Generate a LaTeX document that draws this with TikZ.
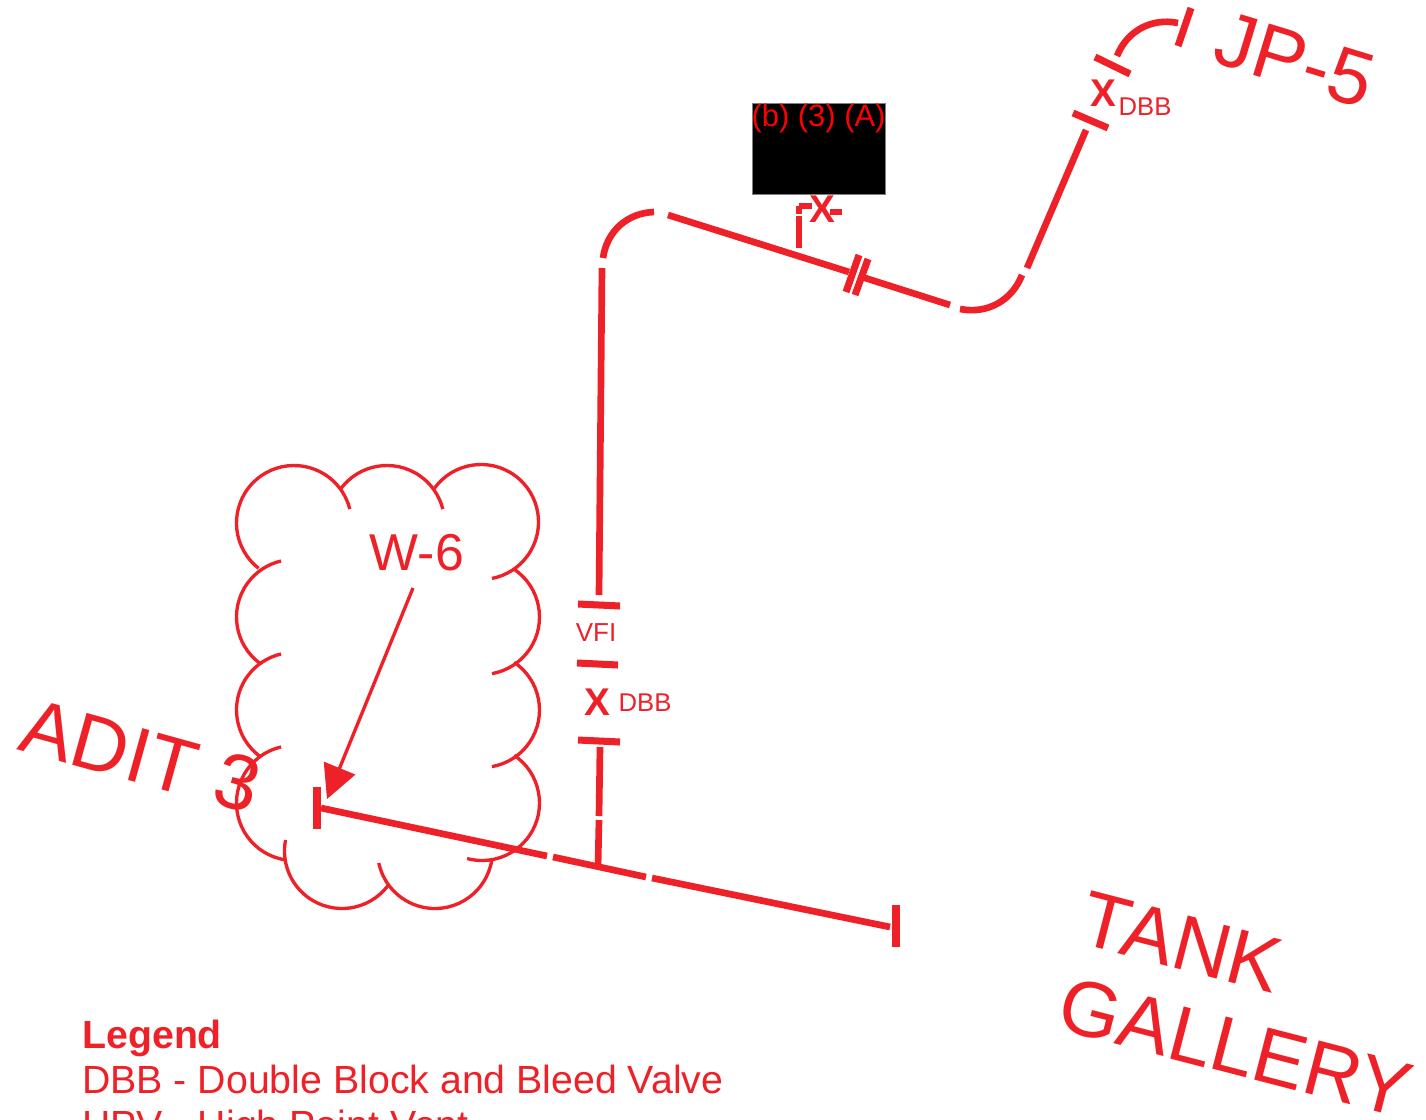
\documentclass[tikz,border=0pt]{standalone}
\usepackage{fontspec}
\setmainfont{Liberation Sans}
\usepackage{tikz}
\usetikzlibrary{arrows.meta}
\definecolor{pipered}{RGB}{238,32,40}
\newcommand{\bump}[4]{\draw[cloudline] (#1,#2) ++(#3:57.5) arc (#3:#4:57.5);}
\newcommand{\pxfont}[1]{\fontsize{#1}{#1}\selectfont}

\begin{document}
\begin{tikzpicture}[x=0.02cm,y=-0.02cm,
         line cap=butt, auto=false]
  \tikzstyle{pipe}=[color=pipered, line width=3.8pt]
  \tikzstyle{capline}=[color=pipered, line width=4pt]
  \tikzstyle{cloudline}=[color=pipered, line width=1.9pt]
  \tikzstyle{lbl}=[text=pipered, inner sep=0pt]
  \tikzstyle{redact}=[draw=gray, fill=black, line width=0.5pt, minimum width=2.66cm, minimum height=1.82cm, inner sep=0pt]
\useasboundingbox (0,0) rectangle (1426,1119);
\clip (0,0) rectangle (1426,1119);

% cloud
\bump{294}{523}{128}{346}
\bump{387}{523}{215}{346}
\bump{481}{522}{216}{439}
\bump{482}{617}{-56}{80}
\bump{482}{710}{-56}{80}
\bump{482}{803}{-56}{105}
\bump{435}{851}{9}{168}
\bump{342}{851}{37}{191}
\bump{294}{803}{99}{257}
\bump{294}{710}{126}{257}
\bump{294}{617}{126}{257}

% main line
\coordinate (endAa) at (317,787);
\coordinate (endAb) at (317,829);
\coordinate (mainA) at (321,808);
\coordinate (mainB) at (547,856);
\coordinate (mainC) at (553,857);
\coordinate (mainD) at (646,877);
\coordinate (mainE) at (652,878);
\coordinate (mainF) at (890,927);
\coordinate (endBa) at (896,905);
\coordinate (endBb) at (896,947);

% riser
\coordinate (tee) at (598,867);
\coordinate (riserA) at (599,820);
\coordinate (riserB) at (599,816);
\coordinate (riserC) at (600,747);
\coordinate (dbbAa) at (578,740);
\coordinate (dbbAb) at (620,742);
\coordinate (vfiAa) at (577,663);
\coordinate (vfiAb) at (618,665);
\coordinate (vfiBa) at (578,604);
\coordinate (vfiBb) at (620,606);
\coordinate (riserD) at (599,595);
\coordinate (riserE) at (602,268);

% top run
\coordinate (elbAa) at (603,258);
\coordinate (elbAb) at (654,212);
\coordinate (runA) at (668,215);
\coordinate (runB) at (849,272);
\coordinate (flgAa) at (859,255);
\coordinate (flgAb) at (846,292);
\coordinate (flgBa) at (868,259);
\coordinate (flgBb) at (855,295);
\coordinate (runC) at (862,277);
\coordinate (runD) at (950,305);
\coordinate (elbBa) at (960,309);
\coordinate (elbBb) at (1022,275);
\coordinate (runE) at (1027,268);
\coordinate (runF) at (1086,130);
\coordinate (dbbBa) at (1073,113);
\coordinate (dbbBb) at (1108,128);
\coordinate (dbbCa) at (1095,57);
\coordinate (dbbCb) at (1130,74);
\coordinate (elbCa) at (1117,56);
\coordinate (elbCb) at (1178,23);
\coordinate (endCa) at (1191,8);
\coordinate (endCb) at (1178,46);

% vent branch
\coordinate (ventA) at (799,248);
\coordinate (ventB) at (799,216);
\coordinate (ventG) at (799,214);
\coordinate (ventC) at (799,206);
\coordinate (ventD) at (812,206);
\coordinate (ventE) at (830,212);
\coordinate (ventF) at (842,212);

\begin{scope}[pipe]
\path
(mainA) edge (mainB)
(mainC) edge (mainD)
(mainE) edge (mainF)
(tee) edge (riserA)
(riserB) edge (riserC)
(riserD) edge (riserE)
(elbAa) edge [bend left=40] (elbAb)
(runA) edge (runB)
(runC) edge (runD)
(elbBa) edge [bend right=40] (elbBb)
(runE) edge (runF)
(elbCa) edge [bend left=40] (elbCb)
(ventA) edge (ventB)
(ventG) edge (ventC)
(ventC) edge (ventD)
(ventE) edge (ventF);
\end{scope}
\begin{scope}[capline]
\path
(endAa) edge (endAb)
(endBa) edge (endBb)
(dbbAa) edge (dbbAb)
(vfiAa) edge (vfiAb)
(vfiBa) edge (vfiBb)
(flgAa) edge (flgAb)
(flgBa) edge (flgBb)
(dbbBa) edge (dbbBb)
(dbbCa) edge (dbbCb)
(endCa) edge (endCb);
\end{scope}

% redacted box
\node[redact] (redactbox) at (818.5,148.5) {};
\node[lbl, text=red, font=\pxfont{17.6}] (redactlbl) at (818.5,118) {(b) (3) (A)};

% valve labels
\node[lbl, font=\pxfont{14.8}] (vfilbl) at (596,633) {VFI};
\node[lbl, font=\pxfont{22}\bfseries] (xA) at (597,702) {X};
\node[lbl, font=\pxfont{14.6}] (dbbA) at (645,703) {DBB};
\node[lbl, font=\pxfont{22}\bfseries] (xB) at (1103,93) {X};
\node[lbl, font=\pxfont{14.6}] (dbbB) at (1145,107) {DBB};
\node[lbl, font=\pxfont{22}\bfseries] (xC) at (822,209) {X};

% area labels
\node[lbl, font=\pxfont{29.5}] (w6) at (417,553) {W-6};
\coordinate (w6from) at (413,588);
\coordinate (w6tip) at (327,799);
\path (w6from) edge [color=pipered, line width=1.9pt, -{Triangle[length=19pt,width=19pt]}] (w6tip);
\node[lbl, font=\pxfont{44.5}, rotate=-15.5] (adit) at (141,756) {ADIT 3};
\node[lbl, font=\pxfont{44.5}, rotate=-17] (jp) at (1295,60) {JP-5};
\node[lbl, font=\pxfont{44.6}, rotate=-14.5, align=left, anchor=north west] (tank) at (1090,890) {TANK\\[6pt]GALLERY};

% legend
\node[lbl, font=\pxfont{22.35}, align=left, anchor=north west] (legend) at (82,1020) {\textbf{Legend}\\[3.3pt]DBB - Double Block and Bleed Valve\\[3.3pt]HPV - High Point Vent};
\end{tikzpicture}
\end{document}
